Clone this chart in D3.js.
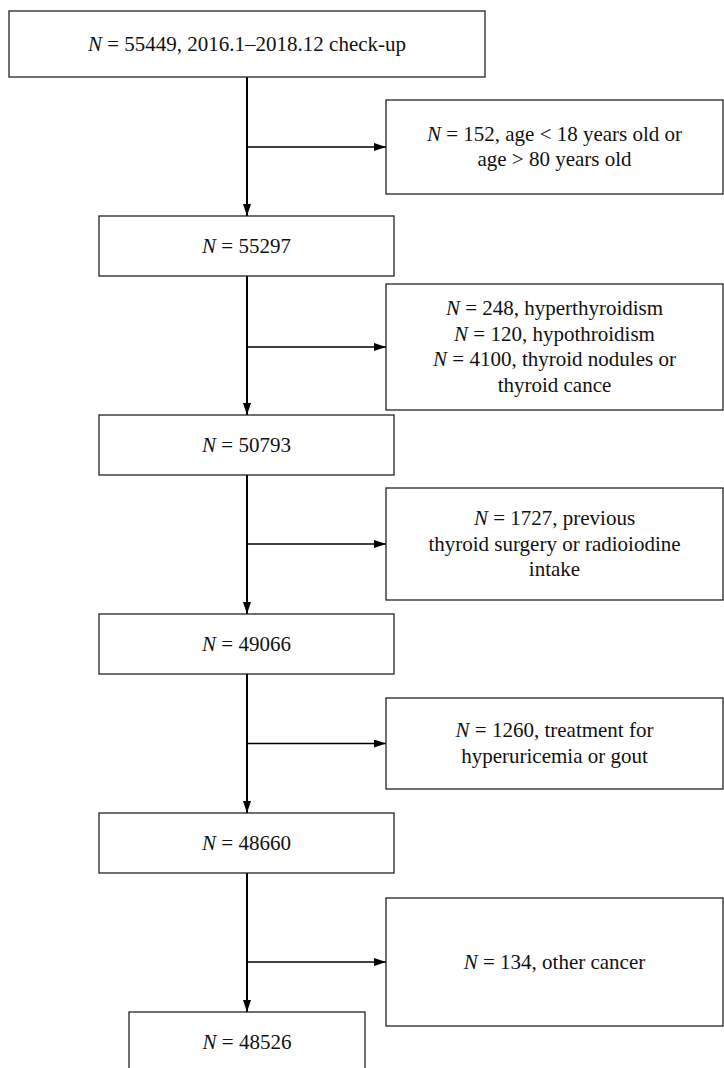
<!DOCTYPE html>
<html>
<head>
<meta charset="utf-8">
<script src="https://cdn.jsdelivr.net/npm/d3@7"></script>
<style>
  html, body { margin: 0; padding: 0; background: #fff; }
  svg { display: block; }
</style>
</head>
<body>
<svg id="drawing_region"></svg>
<script>
// kept counts after each step
const keptCounts = [55449, 55297, 50793, 49066, 48660, 48526];
const firstLabel = ", 2016.1\u20132018.12 check-up";

// excluded at each step, one array of text lines per box
const excludedLines = [
    [["N", " = 152, age < 18 years old or"], ["", "age > 80 years old"]],
    [["N", " = 248, hyperthyroidism"], ["N", " = 120, hypothroidism"], ["N", " = 4100, thyroid nodules or"], ["", "thyroid cance"]],
    [["N", " = 1727, previous"], ["", "thyroid surgery or radioiodine"], ["", "intake"]],
    [["N", " = 1260, treatment for"], ["", "hyperuricemia or gout"]],
    [["N", " = 134, other cancer"]]
];

const config = {
    width: 724,
    height: 1068,
    cx: 247,
    font: "'Liberation Serif', 'Times New Roman', serif",
    fontSize: 21,
    lineHeight: 25.5
};

const svg = d3.select('#drawing_region')
    .attr('width', config.width)
    .attr('height', config.height);

svg.append('defs').append('marker')
    .attr('id', 'arrow')
    .attr('viewBox', '0 0 12 8')
    .attr('refX', 12)
    .attr('refY', 4)
    .attr('markerWidth', 12)
    .attr('markerHeight', 8)
    .attr('markerUnits', 'userSpaceOnUse')
    .attr('orient', 'auto')
    .append('path')
    .attr('d', 'M0,0 L12,4 L0,8 Z')
    .attr('fill', '#000');

// step index -> top of the main box
const ystep = d3.scaleLinear().domain([1, 5]).range([216, 1012]);

// main boxes
const mainBoxes = keptCounts.map((n, i) => {
    if (i === 0) return { x: 9, y: 11, w: 476, h: 66, n: n, label: firstLabel };
    if (i === keptCounts.length - 1) return { x: 129, y: ystep(i), w: 236, h: 70, n: n, label: '' };
    return { x: 99, y: ystep(i), w: 295, h: 60, n: n, label: '' };
});

// side boxes: top / bottom
const sideTops = [100, 284, 488, 698, 898];
const sideBottoms = [194, 410, 600, 789, 1026];
const sideBoxes = excludedLines.map((lines, i) => ({
    x: 386, y: sideTops[i], w: 337, h: sideBottoms[i] - sideTops[i], lines: lines
}));

const boxStroke = '#222';

// vertical connectors
for (let i = 0; i < mainBoxes.length - 1; i++) {
    svg.append('line')
        .attr('x1', config.cx).attr('x2', config.cx)
        .attr('y1', mainBoxes[i].y + mainBoxes[i].h)
        .attr('y2', mainBoxes[i + 1].y)
        .attr('stroke', '#000')
        .attr('stroke-width', 2)
        .attr('marker-end', 'url(#arrow)');
}

// horizontal connectors
sideBoxes.forEach(b => {
    svg.append('line')
        .attr('x1', config.cx).attr('x2', b.x)
        .attr('y1', b.y + b.h / 2).attr('y2', b.y + b.h / 2)
        .attr('stroke', '#000')
        .attr('stroke-width', 1.6)
        .attr('marker-end', 'url(#arrow)');
});

svg.selectAll('rect.main')
    .data(mainBoxes)
    .enter()
    .append('rect')
    .attr('class', 'main')
    .attr('x', d => d.x).attr('y', d => d.y)
    .attr('width', d => d.w).attr('height', d => d.h)
    .attr('fill', '#fff')
    .attr('stroke', boxStroke)
    .attr('stroke-width', 1.3);

const mainText = svg.selectAll('text.main')
    .data(mainBoxes)
    .enter()
    .append('text')
    .attr('class', 'main')
    .attr('x', d => d.x + d.w / 2)
    .attr('y', (d, i) => i === keptCounts.length - 1 ? d.y + 30 + 6.5 : d.y + d.h / 2 + 6.5)
    .attr('text-anchor', 'middle')
    .style('font-family', config.font)
    .style('font-size', config.fontSize + 'px')
    .attr('fill', '#111');
mainText.append('tspan').style('font-style', 'italic').text('N');
mainText.append('tspan').text(d => ' = ' + d.n + d.label);

svg.selectAll('rect.side')
    .data(sideBoxes)
    .enter()
    .append('rect')
    .attr('class', 'side')
    .attr('x', d => d.x).attr('y', d => d.y)
    .attr('width', d => d.w).attr('height', d => d.h)
    .attr('fill', '#fff')
    .attr('stroke', boxStroke)
    .attr('stroke-width', 1.3);

sideBoxes.forEach(b => {
    const cy = b.y + b.h / 2;
    const first = cy - (b.lines.length - 1) / 2 * config.lineHeight + 6.5;
    b.lines.forEach((ln, j) => {
        const t = svg.append('text')
            .attr('x', b.x + b.w / 2)
            .attr('y', first + j * config.lineHeight)
            .attr('text-anchor', 'middle')
            .style('font-family', config.font)
            .style('font-size', config.fontSize + 'px')
            .attr('fill', '#111');
        if (ln[0]) t.append('tspan').style('font-style', 'italic').text(ln[0]);
        t.append('tspan').text(ln[1]);
    });
});
</script>
</body>
</html>
